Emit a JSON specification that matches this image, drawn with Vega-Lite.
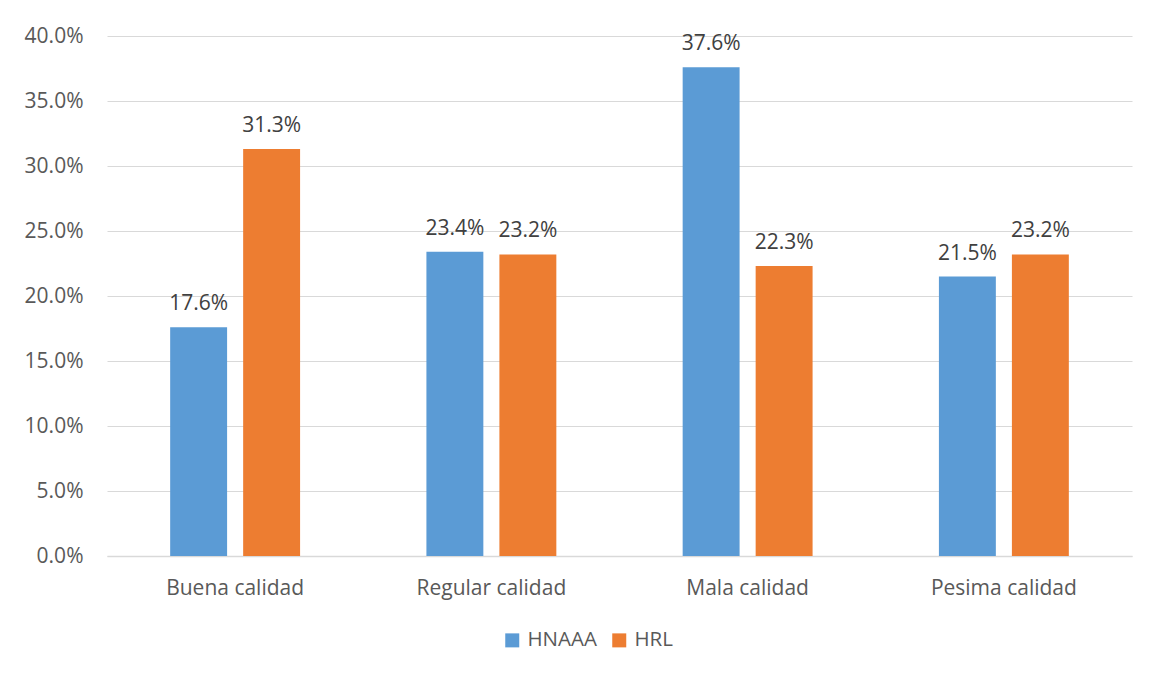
{
  "$schema": "https://vega.github.io/schema/vega-lite/v6.json",
  "autosize": "none",
  "width": 1025,
  "height": 520,
  "padding": {"left": 107, "top": 36, "right": 23, "bottom": 119},
  "background": "white",
  "config": {
    "view": {"stroke": null},
    "font": "Open Sans"
  },
  "data": {
    "values": [
      {"calidad": "Buena calidad", "hospital": "HNAAA", "valor": 0.176},
      {"calidad": "Buena calidad", "hospital": "HRL", "valor": 0.313},
      {"calidad": "Regular calidad", "hospital": "HNAAA", "valor": 0.234},
      {"calidad": "Regular calidad", "hospital": "HRL", "valor": 0.232},
      {"calidad": "Mala calidad", "hospital": "HNAAA", "valor": 0.376},
      {"calidad": "Mala calidad", "hospital": "HRL", "valor": 0.223},
      {"calidad": "Pesima calidad", "hospital": "HNAAA", "valor": 0.215},
      {"calidad": "Pesima calidad", "hospital": "HRL", "valor": 0.232}
    ]
  },
  "encoding": {
    "x": {
      "field": "calidad",
      "type": "nominal",
      "sort": ["Buena calidad", "Regular calidad", "Mala calidad", "Pesima calidad"],
      "scale": {"paddingInner": 0.493, "paddingOuter": 0.2465},
      "axis": {
        "title": null,
        "labelAngle": 0,
        "ticks": false,
        "domainColor": "#d9d9d9",
        "domainWidth": 1.5,
        "labelFont": "Open Sans",
        "labelFontSize": 21,
        "labelColor": "#595959",
        "labelPadding": 21
      }
    },
    "xOffset": {
      "field": "hospital",
      "type": "nominal",
      "scale": {"paddingInner": 0.22, "paddingOuter": 0}
    },
    "y": {
      "field": "valor",
      "type": "quantitative",
      "scale": {"domain": [0, 0.4], "nice": false},
      "axis": {
        "title": null,
        "format": ".1%",
        "values": [0, 0.05, 0.1, 0.15, 0.2, 0.25, 0.3, 0.35, 0.4],
        "ticks": false,
        "domain": false,
        "gridColor": "#d9d9d9",
        "gridWidth": 1,
        "labelFont": "Open Sans",
        "labelFontSize": 21,
        "labelColor": "#595959",
        "labelPadding": 24
      }
    }
  },
  "layer": [
    {
      "mark": {"type": "bar"},
      "encoding": {
        "color": {
          "field": "hospital",
          "type": "nominal",
          "scale": {"domain": ["HNAAA", "HRL"], "range": ["#5b9bd5", "#ed7d31"]},
          "legend": {
            "title": null,
            "orient": "none",
            "direction": "horizontal",
            "legendX": 395,
            "legendY": 594,
            "symbolType": "square",
            "symbolSize": 196,
            "symbolStrokeWidth": 0,
            "labelFont": "Open Sans",
            "labelFontSize": 20.5,
            "labelColor": "#595959",
            "labelOffset": 5,
            "columnPadding": 12
          }
        }
      }
    },
    {
      "mark": {"type": "text", "dy": -17, "baseline": "alphabetic", "font": "Open Sans", "fontSize": 21, "color": "#404040"},
      "encoding": {
        "text": {"field": "valor", "type": "quantitative", "format": ".1%"}
      }
    }
  ]
}
